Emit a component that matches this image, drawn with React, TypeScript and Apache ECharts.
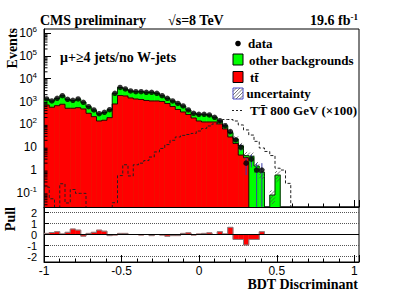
import React, { useEffect, useRef } from "react";
import * as echarts from "echarts";

// ---- binning / axis ranges ----
const X_MIN = -1;
const X_MAX = 1.03;
const N_BINS = 60;
const Y_MIN = 0.024;
const Y_MAX = 1.5e6;
const PULL_MIN = -2.5;
const PULL_MAX = 2.5;

// ---- values (one entry per bin, starting at x = -1) ----
const dataCounts = [1292, 1056, 1387, 1803, 1253, 1133, 1292, 926, 594, 426, 293, 338, 439, 2296, 4122, 3540, 2896, 2700, 2700, 2540, 2540, 2296, 1803, 1387, 1056, 820, 638, 426, 305, 276, 276, 257, 204, 145, 87, 48, 21, 10, 2, 3, 1, 1];
const dataErrors = [36, 32, 37, 42, 35, 34, 36, 30, 24, 21, 17, 18, 21, 48, 64, 60, 54, 52, 52, 50, 50, 48, 42, 37, 32, 29, 25, 21, 17, 17, 17, 16, 14, 12, 9.3, 6.9, 4.6, 3.2, 1.4, 1.7, 1, 1];
const ttbarValues = [705, 560, 657, 757, 506, 506, 537, 471, 305, 217, 140, 151, 196, 780, 1840, 1750, 1430, 1290, 1228, 1110, 1056, 1056, 1005, 820, 606, 448, 348, 270, 190, 140, 127, 127, 127, 104, 63, 28, 14.5, 4.5, 3.5];
const otherBackgrounds = [583, 490, 721, 1044, 740, 610, 741, 460, 287, 205, 146, 181, 245, 1518, 2276, 1784, 1466, 1410, 1475, 1430, 1489, 1240, 800, 573, 453, 375, 287, 153, 116, 135, 147, 128, 77, 38, 24, 15.5, 8.5, 6.9, 0.8, 4.0, 1.5, 0.8, 0, 0.08, 0.6];
const uncertaintyFraction = [0.1, 0.1, 0.1, 0.1, 0.1, 0.1, 0.1, 0.1, 0.1, 0.1, 0.1, 0.1, 0.1, 0.08, 0.08, 0.08, 0.08, 0.08, 0.08, 0.08, 0.08, 0.08, 0.08, 0.08, 0.08, 0.08, 0.12, 0.12, 0.12, 0.12, 0.12, 0.12, 0.12, 0.2, 0.25, 0.3, 0.3, 0.35, 0.45, 0.45, 0.5, 0.5, 0, 0.6, 0.5];
const signalTTx100 = [0.18, 0.055, 0, 0.25, 0.036, 0.14, 0.095, 0.095, 0, 0, 0, 0, 0, 0.037, 0.57, 1.7, 0.55, 1.7, 2.0, 2.6, 3.7, 6.2, 8.8, 13, 20, 28, 33, 36, 40, 51, 66, 85, 104, 127, 163, 163, 140, 94, 57, 34, 18, 9.2, 6.5, 4.3, 1.2, 1.0, 0.26];
const pullValues = [0.1, 0.18, 0.25, 0.05, 0.2, 0.5, 0.4, -0.15, 0.1, 0.2, 0.4, 0.3, -0.1, -0.05, 0.1, 0.1, 0, 0, -0.05, 0, -0.1, 0, -0.05, -0.15, -0.1, -0.1, 0.1, 0.15, -0.05, 0.05, 0.1, 0.15, 0, 0.25, 0.05, 0.65, -0.45, -0.45, -0.95, -0.45, -0.45, 0.25];

// ---- styles ----
const RED = "#ff0000";
const GREEN = "#00ff00";
const SERIF = '"Liberation Serif", "Times New Roman", serif';
const SANS = '"Liberation Sans", Arial, sans-serif';

const BIN_W = (X_MAX - X_MIN) / N_BINS;
const binLo = (i: number) => X_MIN + i * BIN_W;
const binCenter = (i: number) => X_MIN + (i + 0.5) * BIN_W;

function rectShape(api: any, lo: number, hi: number, yA: number, yB: number) {
  const a = api.coord([lo, yA]);
  const b = api.coord([hi, yB]);
  return {
    x: Math.min(a[0], b[0]),
    y: Math.min(a[1], b[1]),
    width: Math.abs(b[0] - a[0]),
    height: Math.abs(b[1] - a[1]),
  };
}

function logStepPoints(api: any, values: number[], floor: number) {
  const pts: number[][] = [];
  pts.push(api.coord([binLo(0), floor]));
  for (let i = 0; i < values.length; i++) {
    const v = values[i] > 0 ? values[i] : floor;
    pts.push(api.coord([binLo(i), v]));
    pts.push(api.coord([binLo(i + 1), v]));
  }
  pts.push(api.coord([binLo(values.length), floor]));
  return pts;
}

function linStepPoints(api: any, values: number[]) {
  const pts: number[][] = [];
  pts.push(api.coord([binLo(0), 0]));
  for (let i = 0; i < values.length; i++) {
    pts.push(api.coord([binLo(i), values[i]]));
    pts.push(api.coord([binLo(i + 1), values[i]]));
  }
  pts.push(api.coord([binLo(values.length), 0]));
  return pts;
}

function buildOption() {
  const totals = otherBackgrounds.map((o, i) => (ttbarValues[i] || 0) + o);
  const greenData = totals
    .map((t, i) => [binLo(i), binLo(i + 1), t])
    .filter((d) => d[2] > 0);
  const redData = ttbarValues
    .map((t, i) => [binLo(i), binLo(i + 1), t])
    .filter((d) => d[2] > 0);
  const uncData = totals
    .map((t, i) => {
      const f = uncertaintyFraction[i] || 0;
      return [binLo(i), binLo(i + 1), t * (1 - f), t * (1 + f), f];
    })
    .filter((d) => d[4] > 0 && d[2] > 0);
  const pointData = dataCounts.map((n, i) => [binCenter(i), n]);
  const errData = dataCounts.map((n, i) => [binCenter(i), n - dataErrors[i], n + dataErrors[i]]);
  const pullData = pullValues.map((p, i) => [binLo(i), binLo(i + 1), p]);

  const minorTicks: number[][] = [];
  for (let e = -2; e <= 6; e++) {
    for (let m = 2; m <= 9; m++) {
      const v = m * Math.pow(10, e);
      if (v > Y_MIN && v < Y_MAX) minorTicks.push([X_MIN, v]);
    }
  }

  const legendText = (text: string, x: number, y: number) => ({
    type: "text",
    x,
    y,
    z: 100,
    style: {
      text,
      fontFamily: SERIF,
      fontWeight: "bold",
      fontSize: 13,
      fill: "#000",
      align: "left",
      verticalAlign: "middle",
    },
  });

  const legendHatch: any[] = [];
  {
    const x0 = 233, y0 = 88, x1 = 243, y1 = 99, S = 3.5;
    for (let k = x0 + y0 + S; k < x1 + y1; k += S) {
      const xa = Math.max(x0, k - y1);
      const xb = Math.min(x1, k - y0);
      if (xb > xa)
        legendHatch.push({
          type: "line",
          z: 101,
          shape: { x1: xa, y1: k - xa, x2: xb, y2: k - xb },
          style: { stroke: "#555", lineWidth: 0.8 },
        });
    }
  }

  const xAxisCommon = {
    type: "value",
    min: X_MIN,
    max: X_MAX,
    interval: 0.5,
    axisLine: { onZero: false, lineStyle: { color: "#000", width: 1 } },
    axisTick: { inside: true, length: 7, lineStyle: { color: "#000" } },
    minorTick: { show: true, splitNumber: 5, length: 3.5, lineStyle: { color: "#000" } },
    splitLine: { show: false },
  };

  return {
    animation: false,
    backgroundColor: "#fff",
    grid: [
      { left: 44, top: 29, width: 315, height: 178, show: true, borderColor: "#000", borderWidth: 1, backgroundColor: "transparent" },
      { left: 44, top: 207, width: 315, height: 55, show: true, borderColor: "#000", borderWidth: 1, backgroundColor: "transparent" },
    ],
    xAxis: [
      { ...xAxisCommon, gridIndex: 0, axisLabel: { show: false } },
      {
        ...xAxisCommon,
        gridIndex: 1,
        axisLabel: { fontFamily: SANS, fontSize: 12, color: "#000", margin: 3, showMaxLabel: false },
      },
    ],
    yAxis: [
      {
        type: "log",
        logBase: 10,
        gridIndex: 0,
        min: Y_MIN,
        max: Y_MAX,
        splitNumber: 8,
        axisLine: { onZero: false, lineStyle: { color: "#000", width: 1 } },
        axisTick: { inside: true, length: 7, lineStyle: { color: "#000" } },
        splitLine: { show: false },
        axisLabel: {
          fontFamily: SANS,
          fontSize: 12,
          color: "#000",
          margin: 7,
          showMinLabel: false,
          showMaxLabel: false,
          formatter: (v: number) => {
            const e = Math.round(Math.log10(v));
            if (e === 0) return "1";
            if (e === 1) return "10";
            return "{b|10}{s|" + e + "}";
          },
          rich: {
            b: { fontFamily: SANS, fontSize: 12, color: "#000" },
            s: { fontFamily: SANS, fontSize: 8, color: "#000", padding: [0, 0, 7, 0] },
          },
        },
      },
      {
        type: "value",
        gridIndex: 1,
        min: PULL_MIN,
        max: PULL_MAX,
        splitNumber: 5,
        axisLine: { onZero: false, lineStyle: { color: "#000", width: 1 } },
        axisTick: { inside: true, length: 5, lineStyle: { color: "#000" } },
        splitLine: { show: true, lineStyle: { color: "#555", type: "dotted", width: 1 } },
        axisLabel: {
          fontFamily: SANS,
          fontSize: 11,
          lineHeight: 9,
          color: "#000",
          margin: 7,
          showMinLabel: false,
          showMaxLabel: false,
        },
      },
    ],
    series: [
      {
        type: "custom",
        name: "other backgrounds",
        xAxisIndex: 0,
        yAxisIndex: 0,
        clip: true,
        data: greenData,
        encode: { x: [0, 1], y: 2 },
        renderItem: (_p: any, api: any) => ({
          type: "rect",
          shape: rectShape(api, api.value(0), api.value(1), Y_MIN, api.value(2)),
          style: { fill: GREEN, stroke: GREEN, lineWidth: 0.6 },
        }),
      },
      {
        type: "custom",
        name: "ttbar",
        xAxisIndex: 0,
        yAxisIndex: 0,
        clip: true,
        data: redData,
        encode: { x: [0, 1], y: 2 },
        renderItem: (_p: any, api: any) => ({
          type: "rect",
          shape: rectShape(api, api.value(0), api.value(1), Y_MIN, api.value(2)),
          style: { fill: RED, stroke: RED, lineWidth: 0.6 },
        }),
      },
      {
        type: "custom",
        name: "outlines",
        xAxisIndex: 0,
        yAxisIndex: 0,
        clip: true,
        data: [[X_MIN, Y_MIN]],
        encode: { x: 0, y: 1 },
        renderItem: (_p: any, api: any) => ({
          type: "group",
          children: [
            { type: "polyline", shape: { points: logStepPoints(api, totals, Y_MIN * 0.5) }, style: { stroke: "#000", lineWidth: 0.8, fill: "none" } },
            { type: "polyline", shape: { points: logStepPoints(api, ttbarValues, Y_MIN * 0.5) }, style: { stroke: "#000", lineWidth: 0.8, fill: "none" } },
          ],
        }),
      },
      {
        type: "custom",
        name: "uncertainty",
        xAxisIndex: 0,
        yAxisIndex: 0,
        clip: true,
        data: uncData,
        encode: { x: [0, 1], y: [2, 3] },
        renderItem: (_p: any, api: any) => {
          const a = api.coord([api.value(0), api.value(3)]);
          const b = api.coord([api.value(1), api.value(2)]);
          const x0 = a[0], y0 = a[1], x1 = b[0], y1 = b[1];
          const S = 3.5;
          const children: any[] = [];
          const kStart = Math.ceil((x0 + y0) / S) * S;
          for (let k = kStart; k <= x1 + y1; k += S) {
            const xa = Math.max(x0, k - y1);
            const xb = Math.min(x1, k - y0);
            if (xb > xa)
              children.push({ type: "line", shape: { x1: xa, y1: k - xa, x2: xb, y2: k - xb }, style: { stroke: "#444", lineWidth: 0.7 } });
          }
          return { type: "group", children };
        },
      },
      {
        type: "custom",
        name: "TT 800 GeV (x100)",
        xAxisIndex: 0,
        yAxisIndex: 0,
        clip: true,
        data: [[X_MIN, Y_MIN]],
        encode: { x: 0, y: 1 },
        renderItem: (_p: any, api: any) => ({
          type: "polyline",
          shape: { points: logStepPoints(api, signalTTx100, Y_MIN * 0.5) },
          style: { stroke: "#222", lineWidth: 1, lineDash: [3, 2], fill: "none" },
        }),
      },
      {
        type: "custom",
        name: "data errors",
        xAxisIndex: 0,
        yAxisIndex: 0,
        clip: true,
        data: errData,
        encode: { x: 0, y: [1, 2] },
        renderItem: (_p: any, api: any) => {
          const lo = Math.max(api.value(1), Y_MIN * 0.5);
          const a = api.coord([api.value(0), api.value(2)]);
          const b = api.coord([api.value(0), lo]);
          return { type: "line", shape: { x1: a[0], y1: a[1], x2: b[0], y2: b[1] }, style: { stroke: "#3c3caa", lineWidth: 1 } };
        },
      },
      {
        type: "scatter",
        name: "data",
        xAxisIndex: 0,
        yAxisIndex: 0,
        data: pointData,
        symbol: "circle",
        symbolSize: 5.5,
        itemStyle: { color: "#000" },
        z: 10,
      },
      {
        type: "custom",
        name: "y minor ticks",
        xAxisIndex: 0,
        yAxisIndex: 0,
        clip: true,
        data: minorTicks,
        encode: { x: 0, y: 1 },
        renderItem: (_p: any, api: any) => {
          const p = api.coord([api.value(0), api.value(1)]);
          return { type: "line", shape: { x1: p[0], y1: p[1], x2: p[0] + 3.5, y2: p[1] }, style: { stroke: "#000", lineWidth: 1 } };
        },
      },
      {
        type: "custom",
        name: "pull",
        xAxisIndex: 1,
        yAxisIndex: 1,
        clip: true,
        data: pullData,
        encode: { x: [0, 1], y: 2 },
        renderItem: (_p: any, api: any) => ({
          type: "rect",
          shape: rectShape(api, api.value(0), api.value(1), 0, api.value(2)),
          style: { fill: RED, stroke: RED, lineWidth: 0.5 },
        }),
        markLine: {
          silent: true,
          symbol: "none",
          label: { show: false },
          lineStyle: { color: "#000", type: "solid", width: 1 },
          data: [{ yAxis: 0 }],
        },
      },
      {
        type: "custom",
        name: "pull outline",
        xAxisIndex: 1,
        yAxisIndex: 1,
        clip: true,
        data: [[X_MIN, 0]],
        encode: { x: 0, y: 1 },
        renderItem: (_p: any, api: any) => ({
          type: "polyline",
          shape: { points: linStepPoints(api, pullValues) },
          style: { stroke: "#808080", lineWidth: 1, fill: "none" },
        }),
      },
    ],
    graphic: [
      { type: "text", x: 40, y: 20, style: { text: "CMS preliminary", fontFamily: SERIF, fontWeight: "bold", fontSize: 14, fill: "#000", align: "left", verticalAlign: "middle" } },
      { type: "text", x: 168, y: 20, style: { text: "\u221As=8 TeV", fontFamily: SERIF, fontWeight: "bold", fontSize: 14, fill: "#000", align: "left", verticalAlign: "middle" } },
      {
        type: "text",
        x: 358,
        y: 20,
        style: {
          text: "{a|19.6 fb}{b|-1}",
          align: "right",
          verticalAlign: "middle",
          rich: {
            a: { fontFamily: SERIF, fontWeight: "bold", fontSize: 14, fill: "#000", color: "#000" },
            b: { fontFamily: SERIF, fontWeight: "bold", fontSize: 9, fill: "#000", color: "#000", padding: [0, 0, 7, 0] },
          },
        },
      },
      { type: "text", x: 60, y: 57, style: { text: "\u03BC+\u22654 jets/no W-jets", fontFamily: SERIF, fontWeight: "bold", fontSize: 14, fill: "#000", align: "left", verticalAlign: "middle" } },
      { type: "text", x: 12, y: 28, rotation: Math.PI / 2, style: { text: "Events", fontFamily: SERIF, fontWeight: "bold", fontSize: 14, fill: "#000", align: "right", verticalAlign: "middle" } },
      { type: "text", x: 10, y: 207, rotation: Math.PI / 2, style: { text: "Pull", fontFamily: SERIF, fontWeight: "bold", fontSize: 14, fill: "#000", align: "right", verticalAlign: "middle" } },
      { type: "text", x: 358, y: 284, style: { text: "BDT Discriminant", fontFamily: SERIF, fontWeight: "bold", fontSize: 14, fill: "#000", align: "right", verticalAlign: "middle" } },
      // legend
      { type: "circle", z: 100, shape: { cx: 238, cy: 43.5, r: 2.8 }, style: { fill: "#000" } },
      legendText("data", 248, 43.5),
      { type: "rect", z: 100, shape: { x: 233, y: 54, width: 10, height: 11 }, style: { fill: GREEN, stroke: "#000", lineWidth: 1 } },
      legendText("other backgrounds", 249, 60),
      { type: "rect", z: 100, shape: { x: 233, y: 71.5, width: 10, height: 11 }, style: { fill: RED, stroke: "#000", lineWidth: 1 } },
      legendText("tt\u0304", 250, 77),
      { type: "rect", z: 100, shape: { x: 233, y: 88, width: 10, height: 11 }, style: { fill: "#fff", stroke: "#4a4acc", lineWidth: 1 } },
      ...legendHatch,
      legendText("uncertainty", 246.5, 93.5),
      { type: "line", z: 100, shape: { x1: 232, y1: 110.5, x2: 244, y2: 110.5 }, style: { stroke: "#222", lineWidth: 1, lineDash: [2, 2] } },
      legendText("TT\u0304 800 GeV (\u00D7100)", 250, 110.5),
    ],
  };
}

export default function App() {
  const ref = useRef<HTMLDivElement>(null);
  useEffect(() => {
    if (!ref.current) return;
    const chart = echarts.init(ref.current, undefined, { renderer: "svg" });
    chart.setOption(buildOption() as any);
    return () => chart.dispose();
  }, []);
  return (
    <div
      ref={ref}
      style={{ position: "fixed", left: 0, top: 0, width: 399, height: 297, background: "#fff" }}
    />
  );
}
